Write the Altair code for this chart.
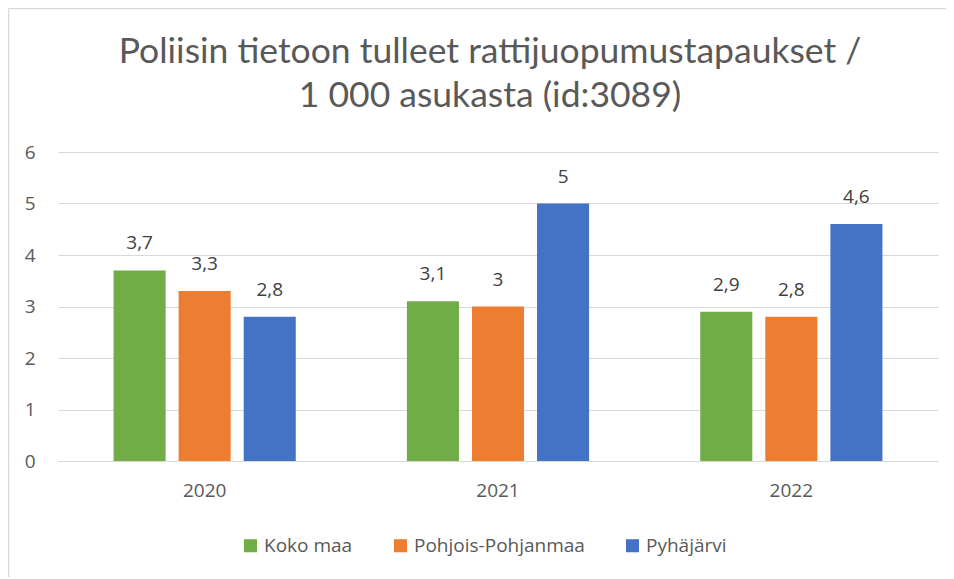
import altair as alt
import pandas as pd

years = ["2020", "2021", "2022"]
series = ["Koko maa", "Pohjois-Pohjanmaa", "Pyhäjärvi"]
koko_maa = [3.7, 3.1, 2.9]
pohjois = [3.3, 3.0, 2.8]
pyhajarvi = [2.8, 5.0, 4.6]
colors = ["#70AD47", "#ED7D31", "#4472C4"]
title_lines = ["Poliisin tietoon tulleet rattijuopumustapaukset /", "1 000 asukasta (id:3089)"]

rows = []
for i, y in enumerate(years):
    for s, vals in zip(series, [koko_maa, pohjois, pyhajarvi]):
        rows.append({"Vuosi": y, "Sarja": s, "Arvo": vals[i]})
df = pd.DataFrame(rows)

FONT = "Open Sans"
TFONT = "Lato"
GREY = "#595959"
FS = 19

base = alt.Chart(df).encode(
    x=alt.X("Vuosi:N", sort=years, title=None,
            scale=alt.Scale(paddingInner=0, paddingOuter=0),
            axis=alt.Axis(labelAngle=0, labelFontSize=FS, labelColor=GREY, labelFont=FONT,
                          ticks=False, domainColor="#d9d9d9", labelPadding=20)),
    xOffset=alt.XOffset("Sarja:N", sort=series,
                        scale=alt.Scale(paddingInner=0.2, paddingOuter=0.854)),
)

bars = base.mark_bar().encode(
    y=alt.Y("Arvo:Q", title=None,
            scale=alt.Scale(domain=[0, 6]),
            axis=alt.Axis(values=[0, 1, 2, 3, 4, 5, 6], labelFontSize=FS, labelColor=GREY,
                          labelFont=FONT, ticks=False, domain=False, gridColor="#d9d9d9",
                          labelPadding=23)),
    color=alt.Color("Sarja:N", sort=series, title=None,
                    scale=alt.Scale(domain=series, range=colors),
                    legend=alt.Legend(orient="none", legendX=183, legendY=384,
                                      direction="horizontal",
                                      symbolType="square", symbolSize=170,
                                      symbolStrokeWidth=0, labelFontSize=FS,
                                      labelColor=GREY, labelFont=FONT, labelLimit=0,
                                      columnPadding=38)),
)

labels = base.mark_text(dy=-17, baseline="bottom", fontSize=FS, color="#404040", font=FONT).encode(
    y=alt.Y("Arvo:Q"),
    text=alt.Text("label:N"),
).transform_calculate(label="replace(toString(datum.Arvo), '.', ',')")

title1 = alt.Chart(pd.DataFrame({"t": [title_lines[0]]})).mark_text(
    font=TFONT, fontSize=35.5, fontWeight="normal", color=GREY, baseline="alphabetic", align="center"
).encode(text="t:N", x=alt.value(432), y=alt.value(-89))
title2 = alt.Chart(pd.DataFrame({"t": [title_lines[1]]})).mark_text(
    font=TFONT, fontSize=35.5, fontWeight="normal", color=GREY, baseline="alphabetic", align="center"
).encode(text="t:N", x=alt.value(432), y=alt.value(-45))

border_left = alt.Chart(pd.DataFrame({"a": [0]})).mark_rule(color="#d9d9d9", strokeWidth=1.5).encode(
    x=alt.value(-49.5), y=alt.value(-143.5), y2=alt.value(430),
)
border_top = alt.Chart(pd.DataFrame({"a": [0]})).mark_rule(color="#d9d9d9", strokeWidth=1.5).encode(
    y=alt.value(-143.5), x=alt.value(-49.5), x2=alt.value(900),
)

chart = alt.layer(border_left, border_top, title1, title2, bars, labels).properties(
    width=880,
    height=309,
    autosize=alt.AutoSizeParams(type="none"),
    padding={"left": 50, "top": 144, "right": 8, "bottom": 116},
).configure_view(stroke=None)

chart.save("out.html", embed_options={"renderer": "svg", "actions": False})
